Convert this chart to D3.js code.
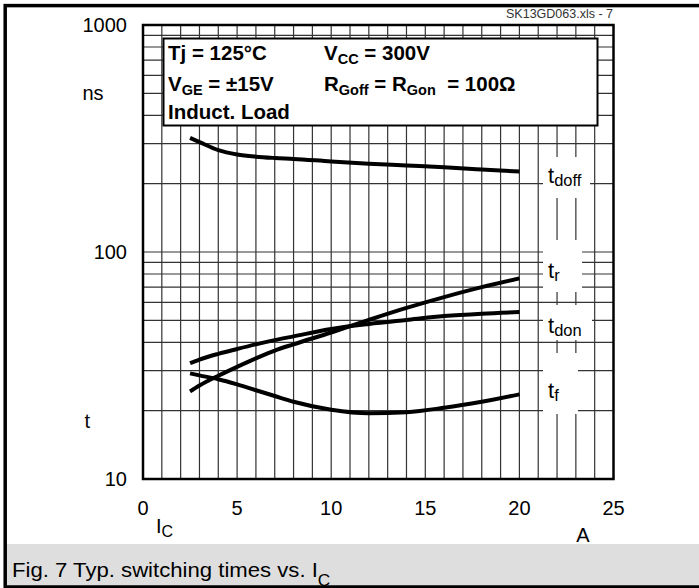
<!DOCTYPE html>
<html>
<head>
<meta charset="utf-8">
<script src="https://cdn.jsdelivr.net/npm/d3@7"></script>
<style>
  body { margin: 0; background: #fff; }
  svg { display: block; font-family: "Liberation Sans", Arial, sans-serif; }
</style>
</head>
<body>
<div id="chart"></div>
<script>
// collector current I_C in A
const icValues = [2.5, 3, 4, 5, 6, 7, 8, 10, 12, 14, 16, 18, 20];
// switching times in ns
const tdoff = [318, 305, 281, 269, 263, 259.5, 257, 250.5, 245, 240.5, 236, 231, 226];
const tr = [24.3, 25.8, 28.5, 31.2, 34.0, 36.8, 39.2, 44.2, 50.2, 56.7, 63.3, 70.0, 76.5];
const tdon = [32.4, 33.6, 35.6, 37.4, 39.2, 40.9, 42.5, 45.8, 48.2, 50.2, 52.2, 53.5, 54.4];
const tf = [29.2, 28.6, 27.5, 26.1, 24.6, 23.2, 21.9, 20.2, 19.5, 19.7, 20.6, 21.9, 23.6];
const seriesNames = ["doff", "r", "don", "f"];
const xTicks = [0, 5, 10, 15, 20, 25];
const yTicks = [10, 100, 1000];

const w = 699;
const h = 588;

const xScale = d3.scaleLinear().domain([0, 25]).range([143, 613.5]);
const yScale = d3.scaleLog().domain([10, 1000]).range([479, 25]);

const svg = d3.select("#chart")
  .append("svg")
  .attr("width", w)
  .attr("height", h);

// writes text with subscript parts: parts = [[string, isSub], ...]
function subText(g, x, y, parts, size, subSize, shift, weight) {
  const t = g.append("text")
    .attr("x", x).attr("y", y)
    .attr("font-size", size)
    .attr("font-weight", weight || "normal")
    .style("white-space", "pre");
  let down = 0;
  parts.forEach(p => {
    const target = p[1] ? shift : 0;
    t.append("tspan")
      .attr("dy", target - down)
      .attr("font-size", p[1] ? subSize : size)
      .text(p[0]);
    down = target;
  });
  return t;
}

// caption band and outer frame
svg.append("rect")
  .attr("x", 6).attr("y", 544)
  .attr("width", w).attr("height", 42)
  .attr("fill", "#dedede");
svg.append("rect")
  .attr("x", 5.2).attr("y", 5.6)
  .attr("width", w + 20).attr("height", 581.4)
  .attr("fill", "none")
  .attr("stroke", "#000")
  .attr("stroke-width", 3.5);

// grid
const grid = svg.append("g").attr("stroke", "#333").attr("stroke-width", 1.2);
grid.selectAll("line.v")
  .data(d3.range(1, 25))
  .join("line")
  .attr("class", "v")
  .attr("x1", d => xScale(d)).attr("x2", d => xScale(d))
  .attr("y1", yScale(1000)).attr("y2", yScale(10));
grid.selectAll("line.h")
  .data(yScale.ticks().filter(d => d > 10 && d < 1000))
  .join("line")
  .attr("class", "h")
  .attr("x1", xScale(0)).attr("x2", xScale(25))
  .attr("y1", d => yScale(d)).attr("y2", d => yScale(d));

// white patches behind the curve names
const masks = [[543, 157, 47, 41], [543, 240, 39, 52], [543, 305, 49, 35], [543, 353, 35, 61]];
svg.selectAll("rect.mask")
  .data(masks)
  .join("rect")
  .attr("class", "mask")
  .attr("x", d => d[0]).attr("y", d => d[1])
  .attr("width", d => d[2]).attr("height", d => d[3])
  .attr("fill", "#fff");

// conditions box
svg.append("rect")
  .attr("x", 163.5).attr("y", 38.5)
  .attr("width", 434).attr("height", 87)
  .attr("fill", "#fff")
  .attr("stroke", "#000")
  .attr("stroke-width", 2);
const box = svg.append("g").attr("fill", "#000");
subText(box, 168, 60, [["Tj = 125°C", false]], 20.5, 14, 4, "bold");
subText(box, 168, 90.5, [["V", false], ["GE", true], [" = ±15V", false]], 20.5, 14.5, 4, "bold");
subText(box, 168, 119, [["Induct. Load", false]], 20.5, 14, 4, "bold");
subText(box, 324, 60, [["V", false], ["CC", true], [" = 300V", false]], 20.5, 14.5, 4, "bold");
subText(box, 324, 90.5, [["R", false], ["Goff", true], [" = R", false], ["Gon", true], ["  = 100Ω", false]], 20.5, 14.5, 4, "bold");

// curves
const series = [tdoff, tr, tdon, tf];
const line = d3.line()
  .x((d, i) => xScale(icValues[i]))
  .y(d => yScale(d))
  .curve(d3.curveMonotoneX);
svg.selectAll("path.curve")
  .data(series)
  .join("path")
  .attr("class", "curve")
  .attr("d", d => line(d))
  .attr("fill", "none")
  .attr("stroke", "#000")
  .attr("stroke-width", 4);

// curve names
const labelBase = [183, 278, 333, 398];
seriesNames.forEach((n, i) => {
  subText(svg, 548, labelBase[i], [["t", false], [n, true]], 22, 16.5, 3);
});

// plot border
svg.append("rect")
  .attr("x", xScale(0)).attr("y", yScale(1000))
  .attr("width", xScale(25) - xScale(0))
  .attr("height", yScale(10) - yScale(1000))
  .attr("fill", "none")
  .attr("stroke", "#000")
  .attr("stroke-width", 2.5);

// tick labels
svg.selectAll("text.ytick")
  .data(yTicks)
  .join("text")
  .attr("class", "ytick")
  .attr("x", 127)
  .attr("y", d => yScale(d) + 7)
  .attr("text-anchor", "end")
  .attr("font-size", 20)
  .text(d => d);
svg.selectAll("text.xtick")
  .data(xTicks)
  .join("text")
  .attr("class", "xtick")
  .attr("x", d => xScale(d))
  .attr("y", 515)
  .attr("text-anchor", "middle")
  .attr("font-size", 20)
  .text(d => d);

// axis names
svg.append("text").attr("x", 82.5).attr("y", 100).attr("font-size", 20).text("ns");
svg.append("text").attr("x", 84.5).attr("y", 428).attr("font-size", 20).text("t");
subText(svg, 156, 533, [["I", false], ["C", true]], 20, 16, 4);
svg.append("text").attr("x", 583).attr("y", 541.5).attr("text-anchor", "middle").attr("font-size", 20).text("A");

svg.append("text")
  .attr("x", 613).attr("y", 18)
  .attr("text-anchor", "end")
  .attr("font-size", 12.5)
  .attr("fill", "#333")
  .text("SK13GD063.xls - 7");

// caption, a bit wider than the plain font
const cap = svg.append("g").attr("transform", "translate(12,576.5) scale(1.08,1)");
subText(cap, 0, 0, [["Fig. 7 Typ. switching times vs. I", false], ["C", true]], 20.5, 16, 9);
</script>
</body>
</html>
